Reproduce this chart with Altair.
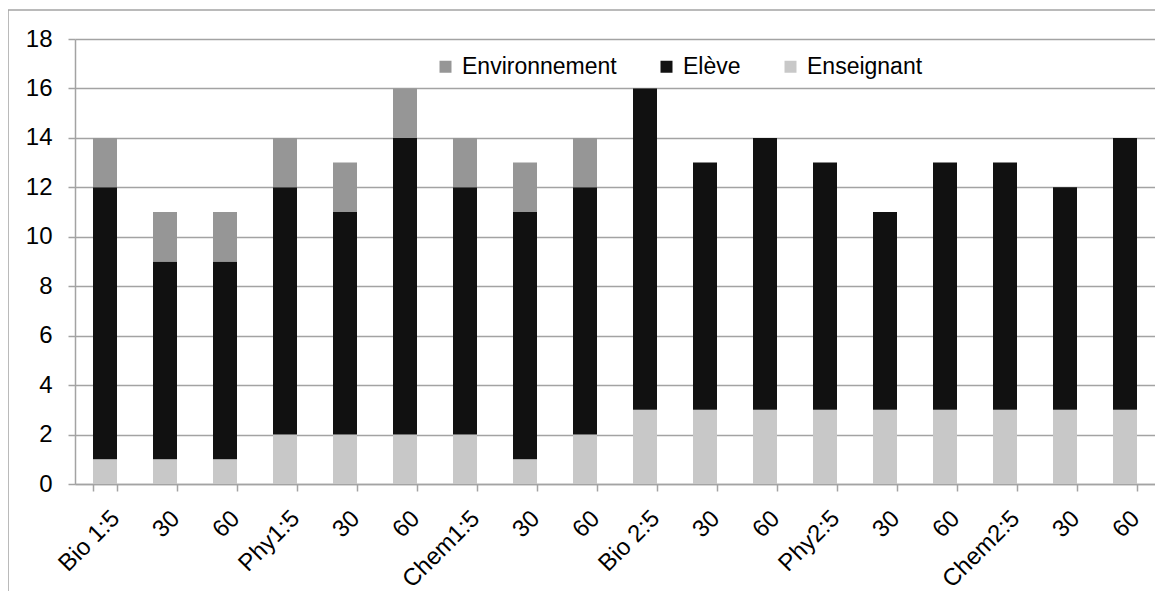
import altair as alt
import pandas as pd

labels = ["Bio 1:5", "30", "60", "Phy1:5", "30", "60", "Chem1:5", "30", "60",
          "Bio 2:5", "30", "60", "Phy2:5", "30", "60", "Chem2:5", "30", "60"]
enseignant = [1, 1, 1, 2, 2, 2, 2, 1, 2, 3, 3, 3, 3, 3, 3, 3, 3, 3]
eleve = [11, 8, 8, 10, 9, 12, 10, 10, 10, 13, 10, 11, 10, 8, 10, 10, 9, 11]
environnement = [2, 2, 2, 2, 2, 2, 2, 2, 2, 0, 0, 0, 0, 0, 0, 0, 0, 0]

series = ["Environnement", "Elève", "Enseignant"]
colors = ["#969696", "#111111", "#c8c8c8"]
y_ticks = [0, 2, 4, 6, 8, 10, 12, 14, 16, 18]

rows = []
for i in range(len(labels)):
    for name, vals, order in [("Enseignant", enseignant, 0),
                              ("Elève", eleve, 1),
                              ("Environnement", environnement, 2)]:
        if vals[i] > 0:
            rows.append({"idx": i, "serie": name, "value": vals[i], "ord": order})
df = pd.DataFrame(rows)

label_expr = "[" + ",".join("'" + l + "'" for l in labels) + "][datum.value]"

FONT = "Liberation Sans"
GRAY = "#a3a3a3"

bars = alt.Chart(df).mark_bar().encode(
    x=alt.X("idx:O",
            scale=alt.Scale(paddingInner=0.6, paddingOuter=0.3),
            axis=alt.Axis(title=None, labelExpr=label_expr, labelAngle=-45,
                          labelAlign="right", labelBaseline="top",
                          labelPadding=15, labelOffset=2,
                          tickBand="extent", grid=False, tickSize=7,
                          labelFontSize=24)),
    y=alt.Y("value:Q", stack="zero",
            scale=alt.Scale(domain=[0, 18], nice=False),
            axis=alt.Axis(title=None, values=y_ticks, tickSize=7,
                          labelPadding=16, labelFontSize=24, grid=True)),
    color=alt.Color("serie:N",
                    scale=alt.Scale(domain=series, range=colors),
                    legend=alt.Legend(title=None, orient="none",
                                      legendX=359, legendY=16,
                                      direction="horizontal",
                                      symbolType="square", symbolSize=144,
                                      symbolStrokeWidth=0, labelFontSize=23,
                                      labelFont=FONT, labelOffset=5,
                                      columnPadding=38, padding=0,
                                      labelColor="#000000")),
    order=alt.Order("ord:Q"),
)

one = alt.Data(values=[{"a": 1}])
border_left = alt.Chart(one).mark_rule(color=GRAY, strokeWidth=1.5).encode(
    x=alt.value(-67), y=alt.value(-29), y2=alt.value(620))
border_top = alt.Chart(one).mark_rule(color=GRAY, strokeWidth=1.5).encode(
    x=alt.value(-67), x2=alt.value(1200), y=alt.value(-29))

chart = alt.layer(border_left, border_top, bars).properties(
    width=1080, height=445,
    autosize=alt.AutoSizeParams(type="none"),
    padding={"left": 67, "top": 31, "right": 0, "bottom": 107},
).configure_view(stroke=None).configure_axis(
    labelFont=FONT, labelColor="#000000", domainColor=GRAY, domainWidth=1.5,
    tickColor=GRAY, tickWidth=1.5, gridColor=GRAY, gridWidth=1.5,
)

chart.save("out.html", embed_options={"renderer": "svg", "actions": False})
